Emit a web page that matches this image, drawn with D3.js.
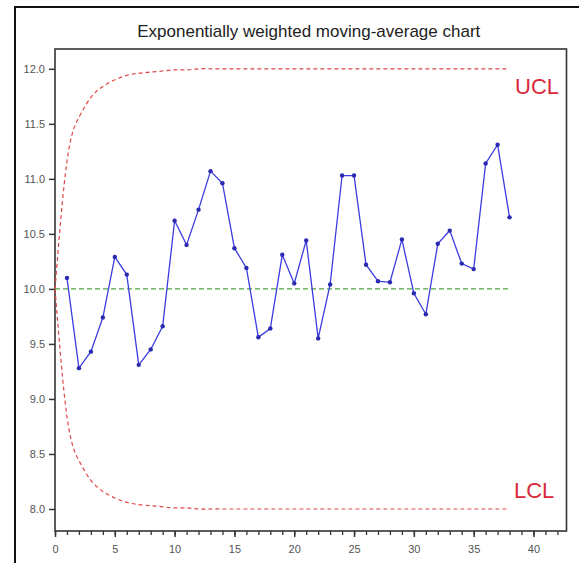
<!DOCTYPE html>
<html><head><meta charset="utf-8">
<script src="https://cdn.jsdelivr.net/npm/d3@7"></script>
<style>html,body{margin:0;padding:0;background:#fff;}svg{display:block;}</style>
</head><body>
<script>
// ---- data ----
const titleText = "Exponentially weighted moving-average chart";
const sampleIdx = [1,2,3,4,5,6,7,8,9,10,11,12,13,14,15,16,17,18,19,20,21,22,23,24,25,26,27,28,29,30,31,32,33,34,35,36,37,38];
const ewmaValues = [10.10,9.28,9.43,9.74,10.29,10.13,9.31,9.45,9.66,10.62,10.40,10.72,11.07,10.96,10.37,10.19,9.56,9.64,10.31,10.05,10.44,9.55,10.04,11.03,11.03,10.22,10.07,10.06,10.45,9.96,9.77,10.41,10.53,10.23,10.18,11.14,11.31,10.65];
const limitIdx = [0,1,2,3,4,5,6,7,8,9,10,11,12,13,14,15,16,17,18,19,20,21,22,23,24,25,26,27,28,29,30,31,32,33,34,35,36,37,38];
const uclValues = [10.00,11.16,11.56,11.74,11.84,11.90,11.94,11.96,11.97,11.98,11.99,11.99,12.00,12.00,12.00,12.00,12.00,12.00,12.00,12.00,12.00,12.00,12.00,12.00,12.00,12.00,12.00,12.00,12.00,12.00,12.00,12.00,12.00,12.00,12.00,12.00,12.00,12.00,12.00];
const lclValues = [10.00,8.84,8.44,8.26,8.16,8.10,8.06,8.04,8.03,8.02,8.01,8.01,8.00,8.00,8.00,8.00,8.00,8.00,8.00,8.00,8.00,8.00,8.00,8.00,8.00,8.00,8.00,8.00,8.00,8.00,8.00,8.00,8.00,8.00,8.00,8.00,8.00,8.00,8.00];
const centerIdx = [0,38];
const centerValues = [10.0,10.0];
const xTickValues = [0,5,10,15,20,25,30,35,40];
const xMinorTicks = d3.range(0,43,1);
const yTickValues = [8.0,8.5,9.0,9.5,10.0,10.5,11.0,11.5,12.0];
const yTickLabels = ["8.0","8.5","9.0","9.5","10.0","10.5","11.0","11.5","12.0"];
const limitLabels = ["UCL","LCL"];

// ---- layout ----
const W = 579, H = 563;
const L = 55, R = 566.5, T = 49, B = 531;
const svg = d3.select("body").append("svg").attr("width", W).attr("height", H);

const x = d3.scaleLinear().domain([0, 42.76]).range([L, R]);
const y = d3.scaleLinear().domain([7.8, 12.18]).range([B, T]);

// outer frame
svg.append("rect").attr("x",15).attr("y",7).attr("width",700).attr("height",700)
  .attr("fill","none").attr("stroke","#111").attr("stroke-width",2);

// title
svg.append("text").attr("x",(L+R)/2 - 2).attr("y",37).attr("text-anchor","middle")
  .attr("font-family","Liberation Sans, Arial, sans-serif").attr("font-size",17)
  .attr("fill","#222").text(titleText);

// plot frame
svg.append("rect").attr("x",L).attr("y",T).attr("width",R-L).attr("height",B-T)
  .attr("fill","#fff").attr("stroke","#333").attr("stroke-width",1.6);

// y axis
const yAxis = d3.axisLeft(y).tickValues(yTickValues).tickSize(6).tickPadding(4)
  .tickFormat((d,i)=>yTickLabels[i]);
const gy = svg.append("g").attr("transform",`translate(${L},0)`).call(yAxis);
gy.select(".domain").remove();
gy.selectAll("line").attr("stroke","#333").attr("stroke-width",1.5);
gy.selectAll("text").attr("font-family","Liberation Sans, Arial, sans-serif").attr("font-size",11).attr("fill","#555");

// x axis minor ticks
const gxm = svg.append("g").attr("transform",`translate(0,${B})`).call(
  d3.axisBottom(x).tickValues(xMinorTicks).tickSize(4).tickFormat(""));
gxm.select(".domain").remove();
gxm.selectAll("line").attr("stroke","#333").attr("stroke-width",1.3);
// x axis major
const gx = svg.append("g").attr("transform",`translate(0,${B})`).call(
  d3.axisBottom(x).tickValues(xTickValues).tickSize(6).tickPadding(8));
gx.select(".domain").remove();
gx.selectAll("line").attr("stroke","#333").attr("stroke-width",1.5);
gx.selectAll("text").attr("font-family","Liberation Sans, Arial, sans-serif").attr("font-size",11).attr("fill","#555");

// limit lines
const limLine = d3.line().x(d=>x(d[0])).y(d=>y(d[1])).curve(d3.curveNatural);
svg.append("path").datum(limitIdx.map((d,i)=>[d,uclValues[i]]))
  .attr("d",limLine).attr("fill","none").attr("stroke","#e04848").attr("stroke-width",1.2).attr("stroke-dasharray","4,3");
svg.append("path").datum(limitIdx.map((d,i)=>[d,lclValues[i]]))
  .attr("d",limLine).attr("fill","none").attr("stroke","#e04848").attr("stroke-width",1.2).attr("stroke-dasharray","4,3");

// center line
svg.append("path").datum(centerIdx.map((d,i)=>[d,centerValues[i]]))
  .attr("d",d3.line().x(d=>x(d[0])).y(d=>y(d[1])))
  .attr("fill","none").attr("stroke","#4caa3c").attr("stroke-width",1.2).attr("stroke-dasharray","5,3");

// data series
const pts = sampleIdx.map((d,i)=>[d,ewmaValues[i]]);
svg.append("path").datum(pts)
  .attr("d",d3.line().x(d=>x(d[0])).y(d=>y(d[1])))
  .attr("fill","none").attr("stroke","#3c3ce0").attr("stroke-width",1.3);
svg.append("g").selectAll("circle").data(pts).join("circle")
  .attr("cx",d=>x(d[0])).attr("cy",d=>y(d[1])).attr("r",2.2).attr("fill","#2a2ab0");

// UCL / LCL labels
svg.append("text").attr("x",515).attr("y",94).text(limitLabels[0])
  .attr("font-family","Liberation Sans, Arial, sans-serif").attr("font-size",22).attr("fill","#d8283a");
svg.append("text").attr("x",514).attr("y",498).text(limitLabels[1])
  .attr("font-family","Liberation Sans, Arial, sans-serif").attr("font-size",22).attr("fill","#d8283a");
</script>
</body></html>
